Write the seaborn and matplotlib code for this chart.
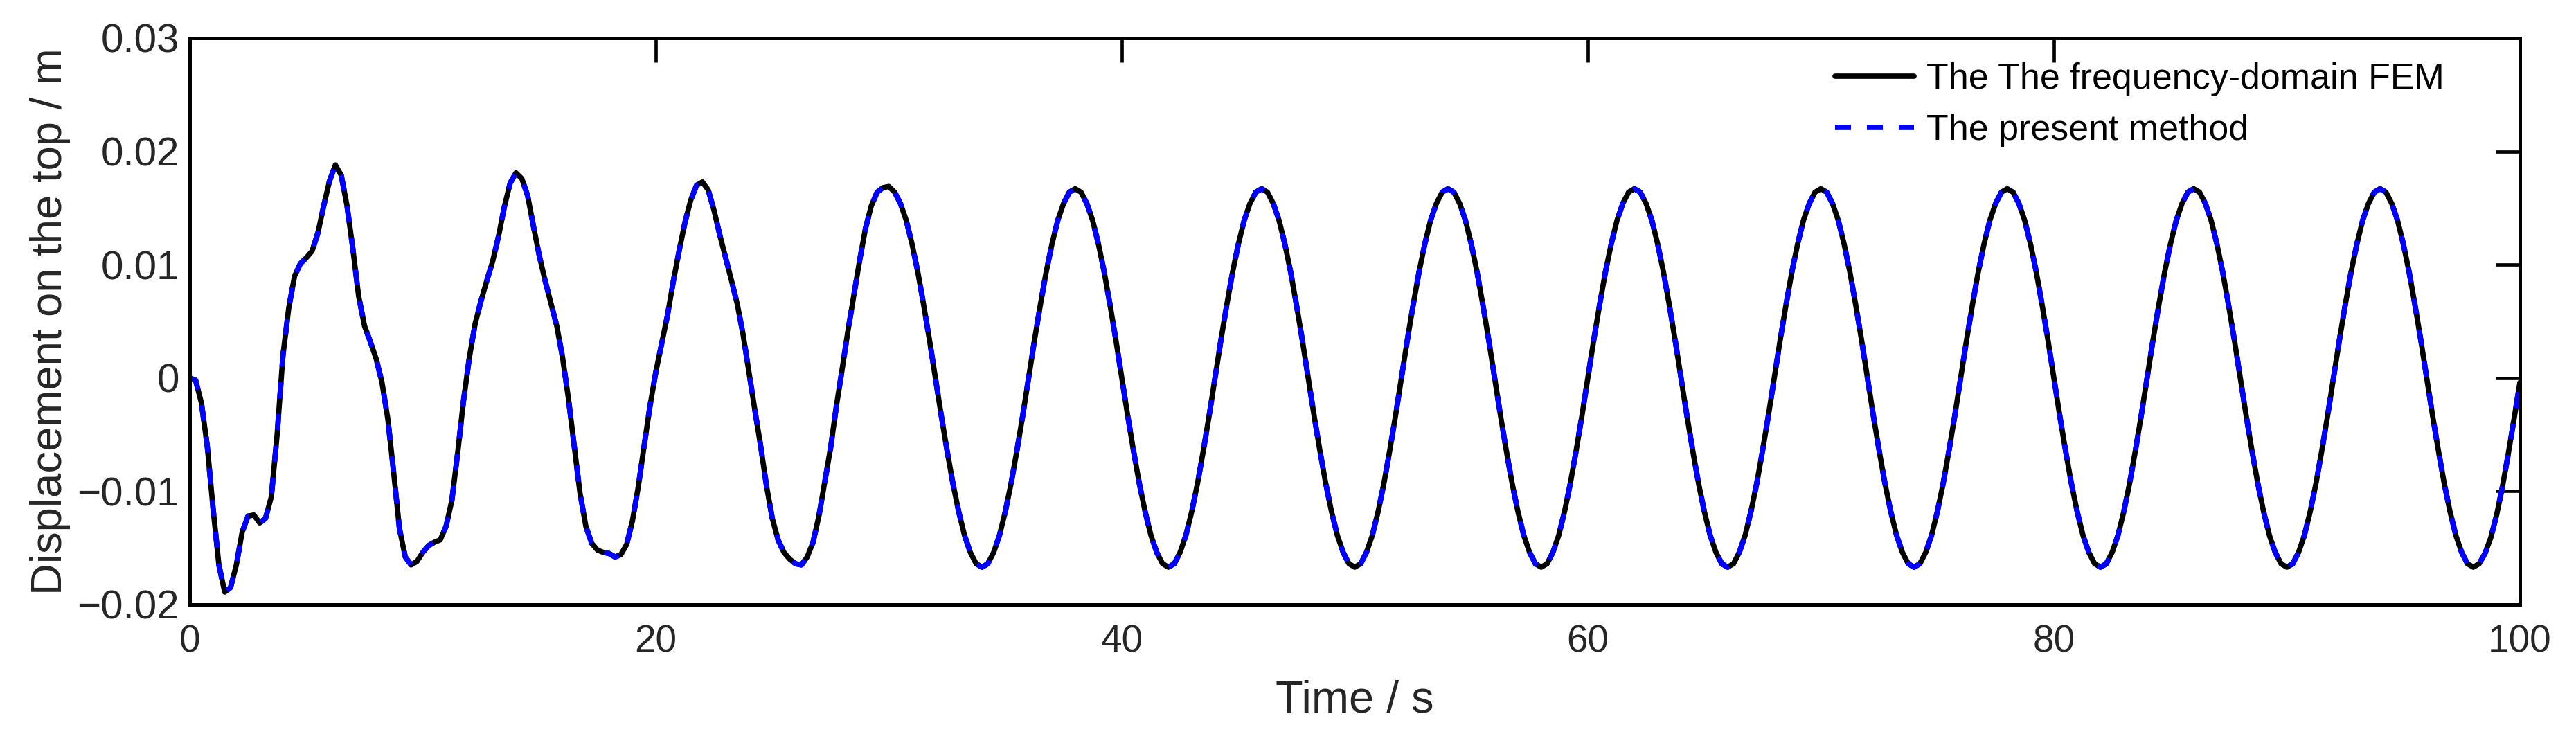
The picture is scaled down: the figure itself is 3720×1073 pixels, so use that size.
import numpy as np
import pandas as pd
import matplotlib
matplotlib.use("Agg")
import matplotlib.pyplot as plt
import seaborn as sns

# ---------------- data ----------------
time_s = np.arange(0, 100.001, 0.25)   # sampling grid, 0.25 s

disp_fem = [
    # 0 - 3.75 s
    0.0000, -0.0002, -0.0022, -0.0060, -0.0115, -0.0165, -0.0189, -0.0185, -0.0165, -0.0136, -0.0122, -0.0121, -0.0128, -0.0124, -0.0105, -0.0050,
    # 4 - 7.75 s
    0.0020, 0.0062, 0.0090, 0.0101, 0.0106, 0.0112, 0.0128, 0.0152, 0.0174, 0.0188, 0.0179, 0.0152, 0.0114, 0.0072, 0.0046, 0.0032,
    # 8 - 11.75 s
    0.0017, -0.0004, -0.0036, -0.0083, -0.0133, -0.0158, -0.0165, -0.0162, -0.0154, -0.0148, -0.0145, -0.0143, -0.0131, -0.0108, -0.0066, -0.0020,
    # 12 - 15.75 s
    0.0018, 0.0048, 0.0068, 0.0086, 0.0103, 0.0125, 0.0151, 0.0172, 0.0181, 0.0176, 0.0161, 0.0134, 0.0108, 0.0086, 0.0066, 0.0046,
    # 16 - 19.75 s
    0.0018, -0.0018, -0.0060, -0.0102, -0.0131, -0.0146, -0.0152, -0.0154, -0.0155, -0.0158, -0.0156, -0.0147, -0.0126, -0.0096, -0.0060, -0.0025,
    # 20 - 23.75 s
    0.0005, 0.0030, 0.0055, 0.0085, 0.0112, 0.0137, 0.0157, 0.0170, 0.0173, 0.0166, 0.0148, 0.0126, 0.0106, 0.0086, 0.0065, 0.0038,
    # 24 - 27.75 s
    0.0005, -0.0028, -0.0060, -0.0095, -0.0124, -0.0143, -0.0154, -0.0160, -0.0164, -0.0165, -0.0158, -0.0145, -0.0122, -0.0092, -0.0062, -0.0025,
    # 28 - 31.75 s
    0.0008, 0.0042, 0.0073, 0.0104, 0.0132, 0.0152, 0.0164, 0.0168, 0.0169, 0.0164, 0.0154, 0.0139, 0.0118, 0.0093, 0.0064, 0.0033,
    # 32 - 35.75 s
    0.0000, -0.0033, -0.0064, -0.0093, -0.0118, -0.0139, -0.0154, -0.0164, -0.0167, -0.0164, -0.0154, -0.0139, -0.0118, -0.0093, -0.0064, -0.0033,
    # 36 - 39.75 s
    0.0000, 0.0033, 0.0064, 0.0093, 0.0118, 0.0139, 0.0154, 0.0164, 0.0167, 0.0164, 0.0154, 0.0139, 0.0118, 0.0093, 0.0064, 0.0033,
    # 40 - 43.75 s
    0.0000, -0.0033, -0.0064, -0.0093, -0.0118, -0.0139, -0.0154, -0.0164, -0.0167, -0.0164, -0.0154, -0.0139, -0.0118, -0.0093, -0.0064, -0.0033,
    # 44 - 47.75 s
    0.0000, 0.0033, 0.0064, 0.0093, 0.0118, 0.0139, 0.0154, 0.0164, 0.0167, 0.0164, 0.0154, 0.0139, 0.0118, 0.0093, 0.0064, 0.0033,
    # 48 - 51.75 s
    0.0000, -0.0033, -0.0064, -0.0093, -0.0118, -0.0139, -0.0154, -0.0164, -0.0167, -0.0164, -0.0154, -0.0139, -0.0118, -0.0093, -0.0064, -0.0033,
    # 52 - 55.75 s
    0.0000, 0.0033, 0.0064, 0.0093, 0.0118, 0.0139, 0.0154, 0.0164, 0.0167, 0.0164, 0.0154, 0.0139, 0.0118, 0.0093, 0.0064, 0.0033,
    # 56 - 59.75 s
    0.0000, -0.0033, -0.0064, -0.0093, -0.0118, -0.0139, -0.0154, -0.0164, -0.0167, -0.0164, -0.0154, -0.0139, -0.0118, -0.0093, -0.0064, -0.0033,
    # 60 - 63.75 s
    0.0000, 0.0033, 0.0064, 0.0093, 0.0118, 0.0139, 0.0154, 0.0164, 0.0167, 0.0164, 0.0154, 0.0139, 0.0118, 0.0093, 0.0064, 0.0033,
    # 64 - 67.75 s
    0.0000, -0.0033, -0.0064, -0.0093, -0.0118, -0.0139, -0.0154, -0.0164, -0.0167, -0.0164, -0.0154, -0.0139, -0.0118, -0.0093, -0.0064, -0.0033,
    # 68 - 71.75 s
    0.0000, 0.0033, 0.0064, 0.0093, 0.0118, 0.0139, 0.0154, 0.0164, 0.0167, 0.0164, 0.0154, 0.0139, 0.0118, 0.0093, 0.0064, 0.0033,
    # 72 - 75.75 s
    0.0000, -0.0033, -0.0064, -0.0093, -0.0118, -0.0139, -0.0154, -0.0164, -0.0167, -0.0164, -0.0154, -0.0139, -0.0118, -0.0093, -0.0064, -0.0033,
    # 76 - 79.75 s
    0.0000, 0.0033, 0.0064, 0.0093, 0.0118, 0.0139, 0.0154, 0.0164, 0.0167, 0.0164, 0.0154, 0.0139, 0.0118, 0.0093, 0.0064, 0.0033,
    # 80 - 83.75 s
    0.0000, -0.0033, -0.0064, -0.0093, -0.0118, -0.0139, -0.0154, -0.0164, -0.0167, -0.0164, -0.0154, -0.0139, -0.0118, -0.0093, -0.0064, -0.0033,
    # 84 - 87.75 s
    0.0000, 0.0033, 0.0064, 0.0093, 0.0118, 0.0139, 0.0154, 0.0164, 0.0167, 0.0164, 0.0154, 0.0139, 0.0118, 0.0093, 0.0064, 0.0033,
    # 88 - 91.75 s
    0.0000, -0.0033, -0.0064, -0.0093, -0.0118, -0.0139, -0.0154, -0.0164, -0.0167, -0.0164, -0.0154, -0.0139, -0.0118, -0.0093, -0.0064, -0.0033,
    # 92 - 95.75 s
    0.0000, 0.0033, 0.0064, 0.0093, 0.0118, 0.0139, 0.0154, 0.0164, 0.0167, 0.0164, 0.0154, 0.0139, 0.0118, 0.0093, 0.0064, 0.0033,
    # 96 - 99.75 s
    0.0000, -0.0033, -0.0064, -0.0093, -0.0118, -0.0139, -0.0154, -0.0164, -0.0167, -0.0164, -0.0155, -0.0141, -0.0121, -0.0096, -0.0067, -0.0036,
    # 100 s
    -0.0004,
]
# the present method coincides with the FEM curve over the whole record
disp_present = list(disp_fem)

series_labels = ["The The frequency-domain FEM", "The present method"]
x_ticks = [0, 20, 40, 60, 80, 100]
y_ticks = [-0.02, -0.01, 0, 0.01, 0.02, 0.03]
y_tick_labels = ["\u22120.02", "\u22120.01", "0", "0.01", "0.02", "0.03"]

# ---------------- figure ----------------
sns.set_style("white")
plt.rcParams["font.family"] = ["Liberation Sans", "Arimo", "DejaVu Sans"]

DPI = 240
fig = plt.figure(figsize=(3720 / DPI, 1073 / DPI), dpi=DPI)
ax = fig.add_axes([274 / 3720, 1 - 873 / 1073, (3639 - 274) / 3720, (873 - 55) / 1073])

df = pd.DataFrame({
    "t": np.concatenate([time_s, time_s]),
    "d": np.concatenate([disp_fem, disp_present]),
    "method": [series_labels[0]] * len(time_s) + [series_labels[1]] * len(time_s),
})

sns.lineplot(data=df[df.method == series_labels[0]], x="t", y="d", color="black",
             linewidth=2.3, ax=ax, label=series_labels[0], estimator=None, sort=False)
sns.lineplot(data=df[df.method == series_labels[1]], x="t", y="d", color="#0000ff",
             linewidth=2.3, ax=ax, label=series_labels[1], estimator=None, sort=False,
             linestyle=(0, (3.0, 3.0)))

ax.set_xlim(0, 100)
ax.set_ylim(-0.02, 0.03)
ax.set_xticks(x_ticks)
ax.set_xticklabels([str(v) for v in x_ticks], fontsize=16.5)
ax.set_yticks(y_ticks)
ax.set_yticklabels(y_tick_labels, fontsize=17.5)
ax.tick_params(direction="in", top=True, right=True, length=10.5, width=1.4,
               colors="black", labelcolor="#262626")
ax.tick_params(axis="x", pad=8.5)
ax.tick_params(axis="y", pad=4.5)
for sp in ax.spines.values():
    sp.set_visible(True)
    sp.set_linewidth(1.5)
    sp.set_color("black")

ax.set_xlabel("Time / s", fontsize=19.5, color="#262626")
ax.set_ylabel("Displacement on the top / m", fontsize=19, color="#262626")
ax.xaxis.set_label_coords(0.5, -0.133)
ax.yaxis.set_label_coords(-0.051, 0.5)

leg = ax.legend(loc="upper left", bbox_to_anchor=(0.706, 0.957), frameon=False,
                fontsize=15.6, handlelength=2.2, handletextpad=0.35, labelspacing=0.48,
                borderpad=0, borderaxespad=0)
for txt in leg.get_texts():
    txt.set_color("black")

fig.savefig("out.png", dpi=DPI, facecolor="white")
